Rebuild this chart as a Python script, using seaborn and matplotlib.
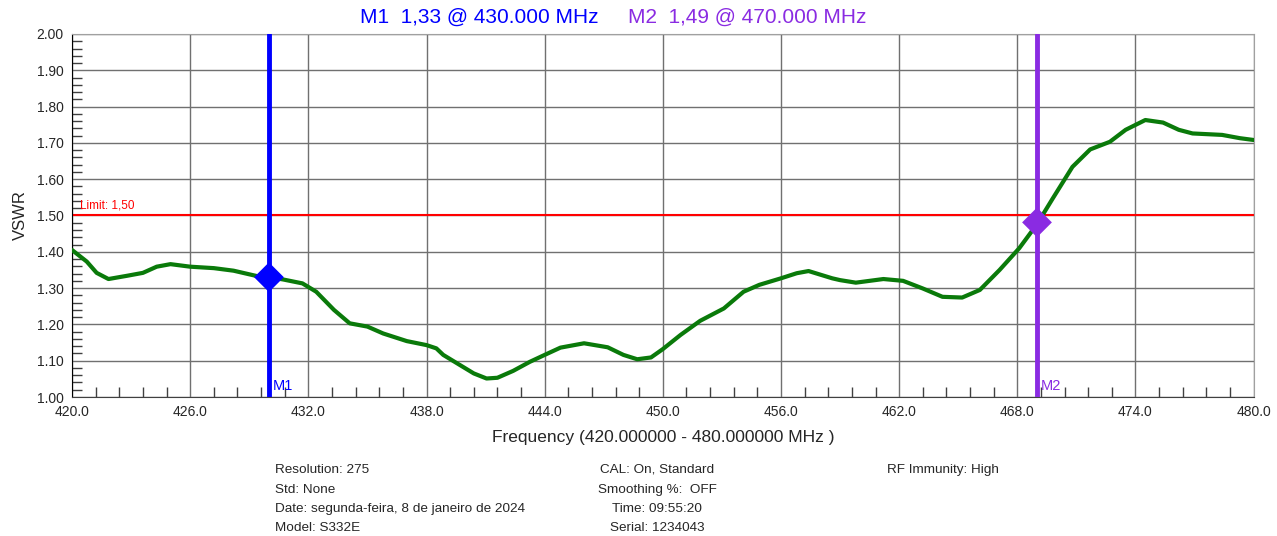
import numpy as np
import pandas as pd
import matplotlib
matplotlib.use("Agg")
import matplotlib.pyplot as plt
import seaborn as sns

# VSWR sweep
freq_mhz = [420.0, 420.75, 421.25, 421.85, 422.8, 423.6, 424.3, 425.0, 426.0, 427.2,
            428.2, 429.4, 429.9, 430.7, 431.7, 432.4, 433.3, 434.1, 435.0, 435.8,
            437.0, 438.0, 438.5, 438.85, 439.7, 440.4, 441.05, 441.6, 442.4, 443.25,
            444.0, 444.8, 446.0, 447.2, 448.0, 448.7, 449.4, 450.0, 450.9, 451.9,
            453.1, 454.1, 454.9, 456.0, 456.8, 457.4, 458.6, 459.0, 459.8, 461.2,
            462.2, 463.2, 464.2, 465.2, 466.1, 467.1, 468.1, 469.0, 469.8, 470.8,
            471.7, 472.7, 473.5, 474.5, 475.4, 476.2, 476.9, 478.4, 479.3, 480.0]
vswr = [1.405, 1.373, 1.342, 1.325, 1.334, 1.342, 1.359, 1.366, 1.359, 1.355,
        1.348, 1.333, 1.331, 1.324, 1.313, 1.290, 1.240, 1.203, 1.194, 1.175,
        1.154, 1.143, 1.134, 1.116, 1.088, 1.065, 1.051, 1.053, 1.072, 1.097,
        1.116, 1.136, 1.148, 1.137, 1.116, 1.104, 1.109, 1.132, 1.171, 1.210,
        1.244, 1.290, 1.309, 1.327, 1.341, 1.347, 1.327, 1.322, 1.315, 1.325,
        1.320, 1.299, 1.276, 1.274, 1.295, 1.350, 1.410, 1.476, 1.547, 1.634,
        1.682, 1.703, 1.736, 1.763, 1.756, 1.736, 1.726, 1.722, 1.713, 1.708]

marker_names = ["M1", "M2"]
marker_freq = [430.0, 469.0]
marker_vswr = [1.33, 1.481]
marker_titles = ["M1  1,33 @ 430.000 MHz", "M2  1,49 @ 470.000 MHz"]
marker_colors = ["#0000FF", "#8A2BE2"]
limit = 1.50

x_ticks = np.arange(420, 481, 6)
y_ticks = np.arange(1.0, 2.01, 0.1)

footer_left = ["Resolution: 275", "Std: None",
               "Date: segunda-feira, 8 de janeiro de 2024", "Model: S332E"]
footer_mid = ["CAL: On, Standard", "Smoothing %:  OFF", "Time: 09:55:20", "Serial: 1234043"]
footer_right = ["RF Immunity: High"]

df = pd.DataFrame({"freq": freq_mhz, "vswr": vswr})
mk = pd.DataFrame({"name": marker_names, "freq": marker_freq, "vswr": marker_vswr})

sns.set_style("white")
plt.rcParams["font.family"] = ["Liberation Sans", "DejaVu Sans"]

fig = plt.figure(figsize=(12.77, 5.36), dpi=100)
ax = fig.add_axes([0.0564, 0.2593, 0.9253, 0.6773])

# grid
for yv in y_ticks:
    ax.axhline(yv, color="#707070", lw=1.0, zorder=0)
for xv in x_ticks:
    ax.axvline(xv, color="#707070", lw=1.0, zorder=0)

# limit line
ax.axhline(limit, color="#FF0000", lw=1.5, zorder=1)
ax.text(420.4, limit + 0.01, "Limit: 1,50", color="#FF0000", fontsize=8.5, va="bottom")

sns.lineplot(data=df, x="freq", y="vswr", color="#0A7A0A", lw=3, ax=ax, zorder=3,
             solid_joinstyle="round", solid_capstyle="round")

# marker lines
for i, row in mk.iterrows():
    ax.axvline(row["freq"], color=marker_colors[i], lw=3.5, zorder=4)
    ax.text(row["freq"] + 0.2, 1.01, row["name"], color=marker_colors[i],
            fontsize=10.5, va="bottom", ha="left", zorder=5)
sns.scatterplot(data=mk, x="freq", y="vswr", hue="name", palette=marker_colors,
                marker="D", s=230, edgecolor="none", legend=False, ax=ax, zorder=6)

ax.set_xlim(420, 480)
ax.set_ylim(1.0, 2.0)
ax.set_xticks(x_ticks)
ax.set_xticklabels([f"{v:.1f}" for v in x_ticks], fontsize=10)
ax.set_yticks(y_ticks)
ax.set_yticklabels([f"{v:.2f}" for v in y_ticks], fontsize=10)
ax.set_xticks(np.arange(420, 480.01, 1.2), minor=True)
ax.set_yticks(np.arange(1.0, 2.001, 0.02), minor=True)
ax.tick_params(axis="y", which="major", length=4, direction="out", color="#404040", pad=2)
ax.tick_params(axis="x", which="major", length=0, pad=6)
ax.tick_params(axis="both", which="minor", length=7, direction="in", color="#404040", width=1)
ax.tick_params(axis="x", which="minor", bottom=True)
ax.tick_params(axis="y", which="minor", left=True)

ax.set_xlabel("Frequency (420.000000 - 480.000000 MHz )", fontsize=12.5, labelpad=8)
ax.set_ylabel("VSWR", fontsize=12, labelpad=6)

for s in ["top", "right"]:
    ax.spines[s].set_color("#A0A0A0")
ax.spines["left"].set_color("#000000")
ax.spines["bottom"].set_color("#404040")

# header
fig.text(360 / 1277, 0.967, marker_titles[0], color=marker_colors[0], fontsize=15, va="center", ha="left")
fig.text(628 / 1277, 0.967, marker_titles[1], color=marker_colors[1], fontsize=15, va="center", ha="left")

# footer
narrow = ["Liberation Sans Narrow", "Liberation Sans", "DejaVu Sans"]
ys = [470, 490, 509, 528]
for t, yp in zip(footer_left, ys):
    fig.text(275 / 1277, 1 - yp / 536, t, fontsize=9.7, family=narrow, va="center", ha="left")
for t, yp in zip(footer_mid, ys):
    fig.text(657 / 1277, 1 - yp / 536, t, fontsize=9.7, family=narrow, va="center", ha="center")
for t, yp in zip(footer_right, ys):
    fig.text(887 / 1277, 1 - yp / 536, t, fontsize=9.7, family=narrow, va="center", ha="left")

fig.savefig("out.png", dpi=100)
